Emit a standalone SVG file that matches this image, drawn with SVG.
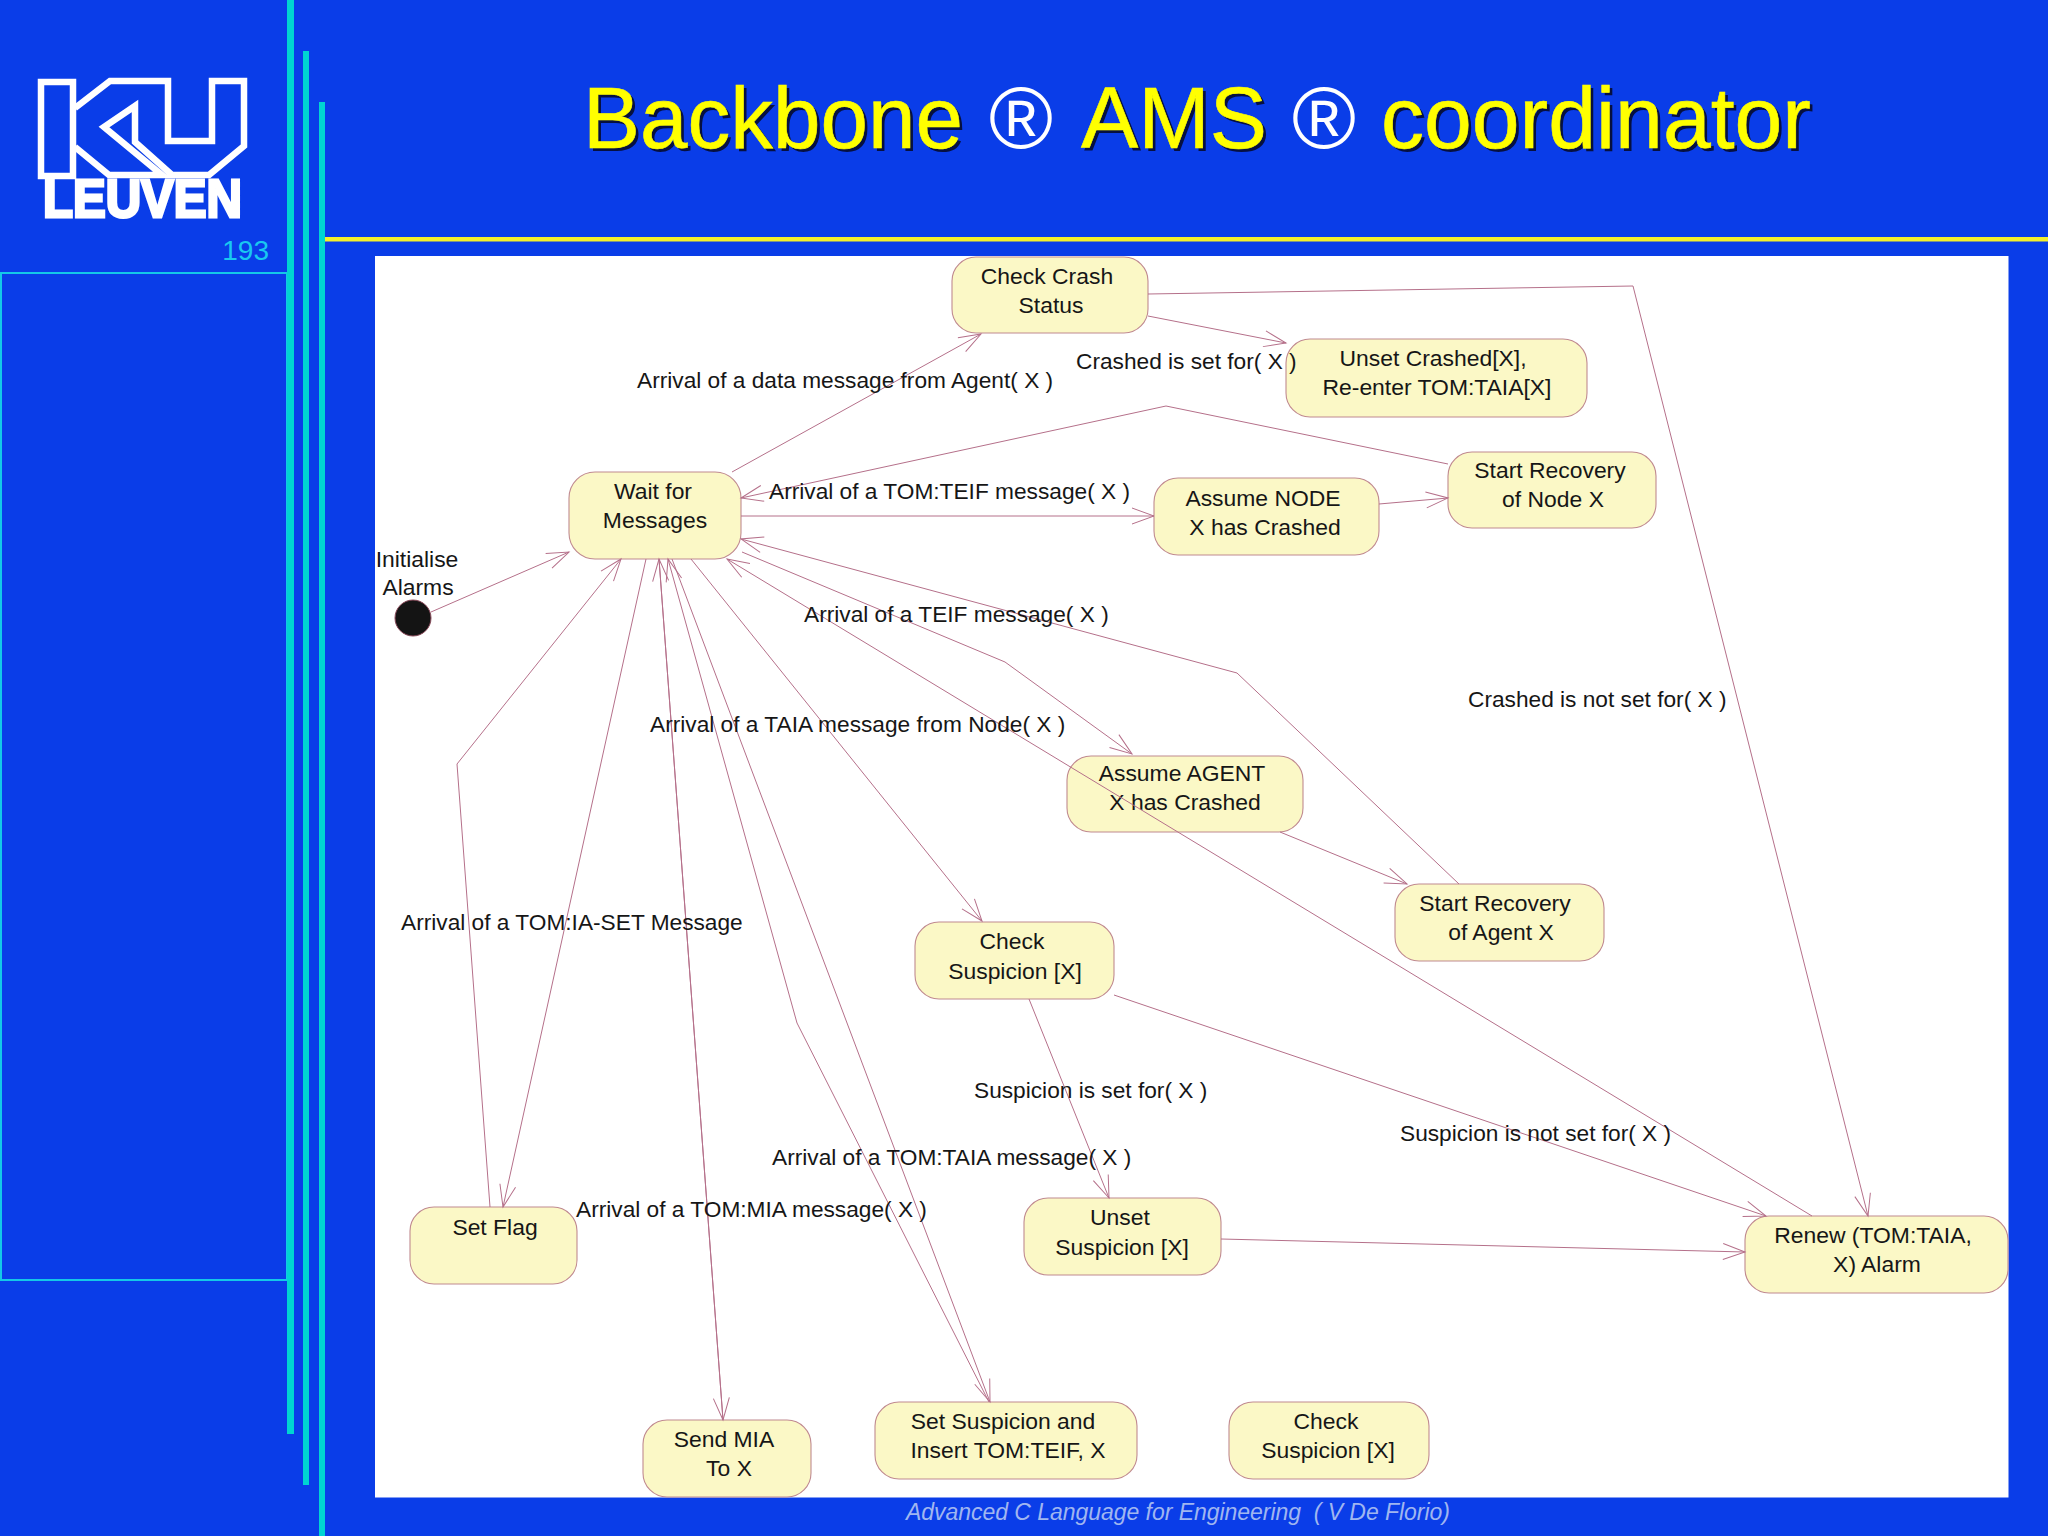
<svg xmlns="http://www.w3.org/2000/svg" width="2048" height="1536" viewBox="0 0 2048 1536">
<style>
text{font-family:"Liberation Sans",Arial,sans-serif}
.t{font-size:22.9px;fill:#161616;text-anchor:middle}
.l{font-size:22.7px;fill:#161616}
.n{fill:#fbf8c6;stroke:#c08a90;stroke-width:1.1}
#connectors *{fill:none;stroke:#b5708a;stroke-width:1}
.a{marker-end:url(#open)}
.ttl{font-size:88px}
.sh{fill:#061040}
.yl{fill:#ffff00;stroke:#ffff00;stroke-width:.6}
</style>
<defs>
<marker id="open" markerUnits="userSpaceOnUse" markerWidth="24" markerHeight="20" viewBox="0 0 24 20" refX="22" refY="10" orient="auto" overflow="visible"><path d="M0 2 L22 10 L0 18" fill="none" stroke="#b5708a" stroke-width="1"/></marker>
</defs>
<rect width="2048" height="1536" fill="#0a3de8"/>
<rect x="1" y="273" width="286" height="1007" fill="none" stroke="#14c8e8" stroke-width="2"/>
<rect x="287" y="0" width="7" height="1434" fill="#00d4d2"/>
<rect x="303" y="51" width="6" height="1434" fill="#00d4d2"/>
<rect x="319" y="102" width="6" height="1434" fill="#00d4d2"/>
<rect x="325" y="237" width="1723" height="4.500" fill="#f4f02c"/>
<g id="logo" fill="none" stroke="#fff" stroke-width="6.500">
<path d="M41 82H73V176H41Z"/>
<path d="M75 108L110 81H168V141H212V81H244V146L209 175H172L135 142V106L104 127L162 175H109L75 147"/>
<text x="43" y="217" font-size="53" font-weight="bold" fill="#fff" stroke="#fff" stroke-width="3" textLength="199" lengthAdjust="spacingAndGlyphs">LEUVEN</text>
</g>
<text x="269" y="260" font-size="28" fill="#19c8f0" text-anchor="end">193</text>
<g id="title" class="ttl">
<text class="ttl sh" x="586" y="151" textLength="380" lengthAdjust="spacingAndGlyphs">Backbone</text>
<text class="ttl sh" x="1084" y="151" textLength="186" lengthAdjust="spacingAndGlyphs">AMS</text>
<text class="ttl sh" x="1384" y="151" textLength="430" lengthAdjust="spacingAndGlyphs">coordinator</text>
<text class="ttl yl" x="583" y="148" textLength="380" lengthAdjust="spacingAndGlyphs">Backbone</text>
<text class="ttl" x="989" y="148" fill="#fff" textLength="64" lengthAdjust="spacingAndGlyphs">®</text>
<text class="ttl yl" x="1081" y="148" textLength="186" lengthAdjust="spacingAndGlyphs">AMS</text>
<text class="ttl" x="1292" y="148" fill="#fff" textLength="64" lengthAdjust="spacingAndGlyphs">®</text>
<text class="ttl yl" x="1381" y="148" textLength="430" lengthAdjust="spacingAndGlyphs">coordinator</text>
</g>
<rect x="375" y="256" width="1633.500" height="1241.500" fill="#fff"/>
<text x="906" y="1520" font-size="23" font-style="italic" fill="#a0b6f0" textLength="544" xml:space="preserve">Advanced C Language for Engineering  ( V De Florio)</text>
<g id="n-check-crash"><rect class="n" x="952" y="257" width="196" height="76" rx="24"/><text class="t" x="1047" y="284">Check Crash</text><text class="t" x="1051" y="313">Status</text></g>
<g id="n-unset-crashed"><rect class="n" x="1286" y="339" width="301" height="78" rx="24"/><text class="t" x="1433" y="366">Unset Crashed[X],</text><text class="t" x="1437" y="395">Re-enter TOM:TAIA[X]</text></g>
<g id="n-recovery-node"><rect class="n" x="1448" y="452" width="208" height="76" rx="24"/><text class="t" x="1550" y="478">Start Recovery</text><text class="t" x="1553" y="507">of Node X</text></g>
<g id="n-assume-node"><rect class="n" x="1154" y="478" width="225" height="77" rx="24"/><text class="t" x="1263" y="506">Assume NODE</text><text class="t" x="1265" y="535">X has Crashed</text></g>
<g id="n-wait"><rect class="n" x="569" y="472" width="172" height="87" rx="26"/><text class="t" x="653" y="499">Wait for</text><text class="t" x="655" y="528">Messages</text></g>
<g id="n-assume-agent"><rect class="n" x="1067" y="756" width="236" height="76" rx="24"/><text class="t" x="1182" y="781">Assume AGENT</text><text class="t" x="1185" y="810">X has Crashed</text></g>
<g id="n-recovery-agent"><rect class="n" x="1395" y="884" width="209" height="77" rx="24"/><text class="t" x="1495" y="911">Start Recovery</text><text class="t" x="1501" y="940">of Agent X</text></g>
<g id="n-check-suspicion"><rect class="n" x="915" y="922" width="199" height="77" rx="24"/><text class="t" x="1012" y="949">Check</text><text class="t" x="1015" y="979">Suspicion [X]</text></g>
<g id="n-unset-suspicion"><rect class="n" x="1024" y="1198" width="197" height="77" rx="24"/><text class="t" x="1120" y="1225">Unset</text><text class="t" x="1122" y="1255">Suspicion [X]</text></g>
<g id="n-renew"><rect class="n" x="1745" y="1216" width="263" height="77" rx="24"/><text class="t" x="1873" y="1243">Renew (TOM:TAIA,</text><text class="t" x="1877" y="1272">X) Alarm</text></g>
<g id="n-set-flag"><rect class="n" x="410" y="1207" width="167" height="77" rx="24"/><text class="t" x="495" y="1235">Set Flag</text></g>
<g id="n-send-mia"><rect class="n" x="643" y="1420" width="168" height="77" rx="24"/><text class="t" x="724" y="1447">Send MIA</text><text class="t" x="729" y="1476">To X</text></g>
<g id="n-set-suspicion"><rect class="n" x="875" y="1402" width="262" height="77" rx="24"/><text class="t" x="1003" y="1429">Set Suspicion and</text><text class="t" x="1008" y="1458">Insert TOM:TEIF, X</text></g>
<g id="n-check-suspicion-2"><rect class="n" x="1229" y="1402" width="200" height="77" rx="24"/><text class="t" x="1326" y="1429">Check</text><text class="t" x="1328" y="1458">Suspicion [X]</text></g>
<g id="n-initial"><circle cx="413" cy="618" r="18" fill="#141414" stroke="#8a4a5a" stroke-width="1"/><text class="t" x="417" y="567">Initialise</text><text class="t" x="418" y="595">Alarms</text></g>
<g id="connectors">
<path class="a" d="M431 612L569 552"/>
<path class="a" d="M732 472L981 334"/>
<path class="a" d="M1148 316L1286 343"/>
<path class="a" d="M1148 294L1633 286L1868 1216"/>
<path class="a" d="M1448 464L1166 406L741 498"/>
<path class="a" d="M741 516H1154"/>
<path class="a" d="M1379 504L1448 498"/>
<path class="a" d="M1459 884L1237 673L741 539"/>
<path class="a" d="M742 552L1005 662L1132 754"/>
<path class="a" d="M1812 1216L727 559"/>
<path class="a" d="M1280 832L1407 884"/>
<path class="a" d="M691 559L982 921"/>
<path class="a" d="M1029 999L1109 1198"/>
<path class="a" d="M1114 995L1766 1216"/>
<path class="a" d="M1221 1239L1745 1252"/>
<path class="a" d="M490 1207L457 764L621 559"/>
<path class="a" d="M646 559L503 1207"/>
<path class="a" d="M659 559L723 1420"/>
<path class="a" d="M723 1420L659 559"/>
<path class="a" d="M989 1402L797 1023L668 559"/>
<path class="a" d="M672 559L990 1402"/>
</g>
<g id="labels">
<text class="l" x="637" y="388">Arrival of a data message from Agent( X )</text>
<text class="l" x="1076" y="369">Crashed is set for( X )</text>
<text class="l" x="769" y="499">Arrival of a TOM:TEIF message( X )</text>
<text class="l" x="804" y="622">Arrival of a TEIF message( X )</text>
<text class="l" x="650" y="732">Arrival of a TAIA message from Node( X )</text>
<text class="l" x="1468" y="707">Crashed is not set for( X )</text>
<text class="l" x="401" y="930">Arrival of a TOM:IA-SET Message</text>
<text class="l" x="974" y="1098">Suspicion is set for( X )</text>
<text class="l" x="1400" y="1141">Suspicion is not set for( X )</text>
<text class="l" x="772" y="1165">Arrival of a TOM:TAIA message( X )</text>
<text class="l" x="576" y="1217">Arrival of a TOM:MIA message( X )</text>
</g>
</svg>
